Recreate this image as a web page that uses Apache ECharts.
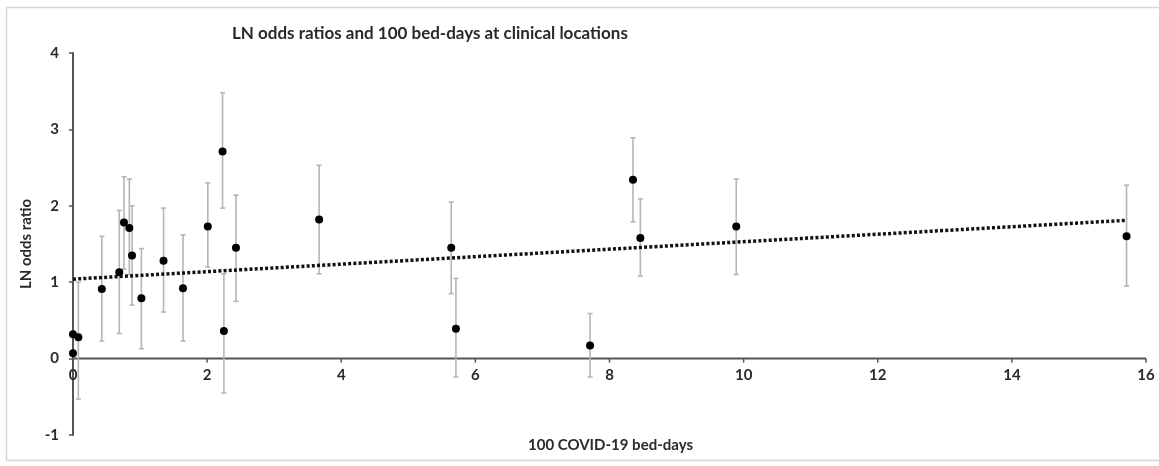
<!DOCTYPE html>
<html>
<head>
<meta charset="utf-8">
<script src="https://cdn.jsdelivr.net/npm/echarts@6/dist/echarts.min.js"></script>
<style>html,body{margin:0;padding:0;background:#fff;}#c{width:1159px;height:466px;}</style>
</head>
<body>
<div id="c"></div>
<script>
// Bed-days (x, in 100s) and LN odds ratios (y) with confidence limits
var bedDays = [0.00, 0.00, 0.08, 0.43, 0.69, 0.76, 0.84, 0.88, 1.02, 1.35, 1.64, 2.01, 2.23, 2.25, 2.43, 3.67, 5.64, 5.71, 7.71, 8.35, 8.46, 9.89, 15.71];
var lnOdds  = [0.07, 0.32, 0.28, 0.91, 1.13, 1.78, 1.71, 1.35, 0.79, 1.28, 0.92, 1.73, 2.71, 0.36, 1.45, 1.82, 1.45, 0.39, 0.17, 2.34, 1.58, 1.73, 1.60];
var ciLow   = [0.07, 0.32, -0.53, 0.23, 0.33, 1.17, 1.10, 0.70, 0.13, 0.61, 0.23, 1.20, 1.97, -0.45, 0.75, 1.11, 0.85, -0.24, -0.24, 1.79, 1.08, 1.10, 0.95];
var ciHigh  = [0.07, 0.32, 1.00, 1.60, 1.94, 2.38, 2.35, 2.00, 1.44, 1.97, 1.62, 2.30, 3.48, 1.11, 2.14, 2.53, 2.05, 1.05, 0.59, 2.89, 2.09, 2.35, 2.27];
// Linear trend line endpoints
var trendX = [0, 15.71];
var trendY = [1.04, 1.81];
var xTicks = [0, 2, 4, 6, 8, 10, 12, 14, 16];
var yTicks = [-1, 0, 1, 2, 3, 4];

var pts = bedDays.map(function (x, i) { return [x, lnOdds[i]]; });
var bars = bedDays.map(function (x, i) { return [x, ciLow[i], ciHigh[i]]; });
var trend = trendX.map(function (x, i) { return [x, trendY[i]]; });
var xTickData = xTicks.map(function (t) { return [t, 0]; });

var font = 'Lato, "Open Sans", sans-serif';
var axisColor = '#555';
var textColor = '#2a2a2a';
var chart = echarts.init(document.getElementById('c'));
chart.setOption({
  animation: false,
  backgroundColor: '#fff',
  title: {
    text: 'LN odds ratios and 100 bed-days at clinical locations',
    left: 227, top: 20,
    textStyle: { fontFamily: font, fontWeight: 'bold', fontSize: 17, color: textColor }
  },
  graphic: [
    {
      type: 'rect', left: 4, top: 5, shape: { width: 1160, height: 453 },
      style: { fill: 'none', stroke: '#d6d6d6', lineWidth: 1.5 }, silent: true
    },
    {
      type: 'text', left: 528, top: 438, silent: true,
      style: { text: '100 COVID-19 bed-days', font: 'bold 15px ' + font, fill: textColor }
    }
  ],
  grid: { left: 73, right: 13, top: 53, bottom: 31 },
  xAxis: {
    type: 'value', min: xTicks[0], max: xTicks[xTicks.length - 1], interval: 2,
    axisLine: { show: false },
    axisTick: { show: false },
    axisLabel: { show: false },
    splitLine: { show: false }
  },
  yAxis: {
    type: 'value', min: yTicks[0], max: yTicks[yTicks.length - 1], interval: 1,
    name: 'LN odds ratio', nameLocation: 'middle', nameGap: 33,
    nameTextStyle: { fontFamily: font, fontWeight: 'bold', fontSize: 15, color: textColor },
    axisLine: { show: true, onZero: false, lineStyle: { color: axisColor, width: 2 } },
    axisTick: { show: true, length: 4, lineStyle: { color: axisColor, width: 1.5 } },
    axisLabel: { fontFamily: font, fontWeight: 'bold', fontSize: 15, color: textColor, margin: 14 },
    splitLine: { show: false }
  },
  series: [
    {
      // x axis drawn along y = 0, with its ticks and labels
      type: 'custom',
      data: xTickData,
      z: 1,
      silent: true,
      renderItem: function (params, api) {
        var p = api.coord([api.value(0), api.value(1)]);
        var children = [
          { type: 'line', shape: { x1: p[0], y1: p[1], x2: p[0], y2: p[1] + 4 },
            style: { stroke: axisColor, lineWidth: 1.5 } },
          { type: 'text', x: p[0], y: p[1] + 9,
            style: { text: String(api.value(0)), font: 'bold 15px ' + font, fill: textColor,
                     textAlign: 'center', textVerticalAlign: 'top' } }
        ];
        if (params.dataIndex === 0) {
          var a = api.coord([xTicks[0], 0]);
          var b = api.coord([xTicks[xTicks.length - 1], 0]);
          children.push({ type: 'line', shape: { x1: a[0], y1: a[1], x2: b[0], y2: b[1] },
            style: { stroke: axisColor, lineWidth: 2 } });
        }
        return { type: 'group', children: children };
      }
    },
    {
      type: 'custom',
      data: bars,
      z: 2,
      silent: true,
      renderItem: function (params, api) {
        var x = api.value(0);
        var lo = api.coord([x, api.value(1)]);
        var hi = api.coord([x, api.value(2)]);
        if (Math.abs(lo[1] - hi[1]) < 1) return null;
        var w = 2.5;
        var st = { stroke: '#b5b5b5', lineWidth: 1.6, fill: 'none' };
        return {
          type: 'group',
          children: [
            { type: 'line', shape: { x1: lo[0], y1: lo[1], x2: hi[0], y2: hi[1] }, style: st },
            { type: 'line', shape: { x1: lo[0] - w, y1: lo[1], x2: lo[0] + w, y2: lo[1] }, style: st },
            { type: 'line', shape: { x1: hi[0] - w, y1: hi[1], x2: hi[0] + w, y2: hi[1] }, style: st }
          ]
        };
      }
    },
    {
      type: 'line',
      data: trend,
      z: 3,
      symbol: 'none',
      lineStyle: { color: '#111', width: 3.5, type: [3, 2.2] }
    },
    {
      type: 'scatter',
      data: pts,
      z: 4,
      symbol: 'circle',
      symbolSize: 8,
      itemStyle: { color: '#000', opacity: 1 }
    }
  ]
});
</script>
</body>
</html>
